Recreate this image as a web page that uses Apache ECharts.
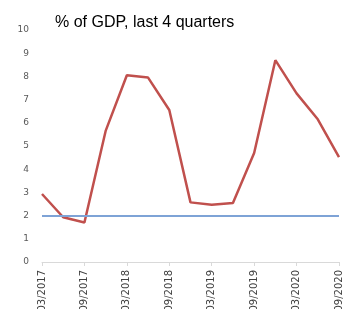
<!DOCTYPE html>
<html>
<head>
<meta charset="utf-8">
<script src="https://cdn.jsdelivr.net/npm/echarts@6/dist/echarts.min.js"></script>
<style>
  html, body { margin: 0; padding: 0; background: #fff; }
  #main { width: 343px; height: 309px; }
</style>
</head>
<body>
<div id="main"></div>
<script>
// quarters, % of GDP over last 4 quarters
var quarters = ['03/2017','06/2017','09/2017','12/2017','03/2018','06/2018','09/2018','12/2018',
                '03/2019','06/2019','09/2019','12/2019','03/2020','06/2020','09/2020'];
var values = [2.93, 1.93, 1.7, 5.65, 8.05, 7.95, 6.55, 2.57, 2.47, 2.54, 4.7, 8.7, 7.27, 6.15, 4.52];
var threshold = 2;

var myChart = echarts.init(document.getElementById('main'));

var option = {
    animation: false,
    title: {
        text: '% of GDP, last 4 quarters',
        left: 50,
        top: 10,
        textStyle: { fontFamily: 'Liberation Sans', fontSize: 16, fontWeight: 'normal', color: '#000' }
    },
    grid: { left: 42, right: 4, top: 30, bottom: 47, outerBoundsMode: 'none', containLabel: false },
    xAxis: {
        type: 'category',
        data: quarters,
        boundaryGap: false,
        axisLine: { lineStyle: { color: '#d9d9d9' } },
        axisTick: { interval: 1, length: 4, lineStyle: { color: '#d9d9d9' } },
        axisLabel: {
            interval: 1,
            rotate: 90,
            margin: 8,
            fontFamily: 'DejaVu Sans',
            fontSize: 10,
            color: '#404040'
        }
    },
    yAxis: {
        type: 'value',
        min: 0,
        max: 10,
        interval: 1,
        splitLine: { show: false },
        axisLine: { show: false },
        axisTick: { show: false },
        axisLabel: { fontFamily: 'DejaVu Sans', fontSize: 9, color: '#595959', margin: 13 }
    },
    series: [
        {
            type: 'line',
            data: values,
            symbol: 'none',
            lineStyle: { color: '#c0504d', width: 2.5 },
            markLine: {
                silent: true,
                symbol: 'none',
                label: { show: false },
                lineStyle: { color: '#7ea3d6', width: 2, type: 'solid' },
                data: [{ yAxis: threshold }]
            }
        }
    ]
};

myChart.setOption(option);
</script>
</body>
</html>
